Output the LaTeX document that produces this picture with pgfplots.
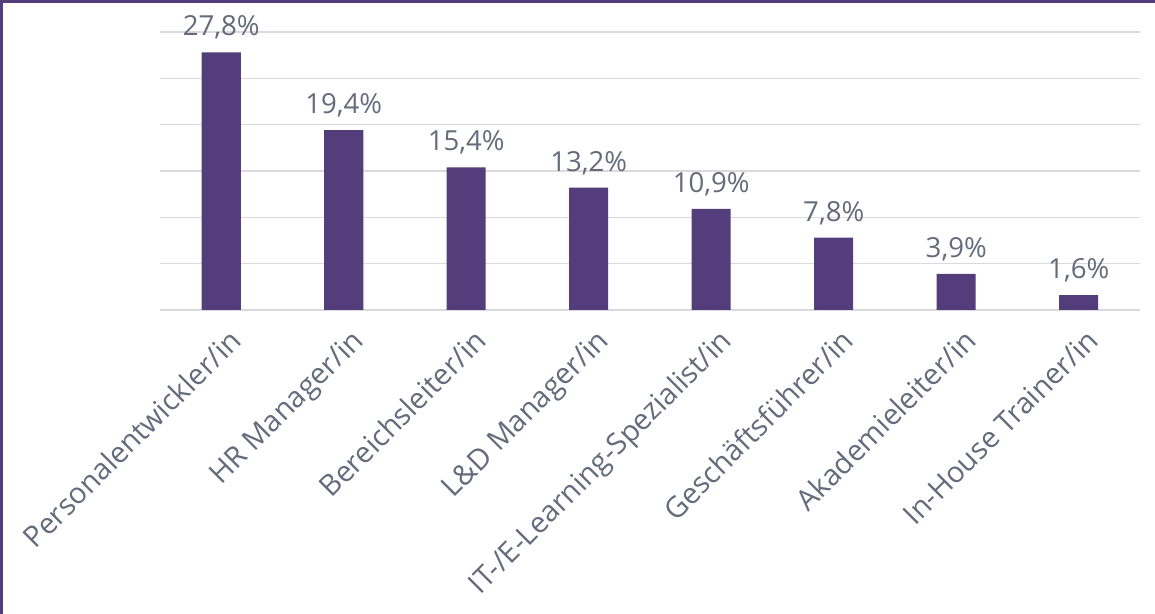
\documentclass[border=0pt]{standalone}
\usepackage{pgfplots}
\pgfplotsset{compat=1.18}
\usepackage{fontspec}
\setmainfont{Open Sans}
\definecolor{barpurple}{HTML}{533D7A}
\definecolor{txtgray}{HTML}{646B7B}
\definecolor{gridgray}{HTML}{D9D9DE}
\begin{document}
\begin{tikzpicture}
\useasboundingbox (0,0) rectangle (577.5pt,307pt);
\fill[white] (0,0) rectangle (577.5pt,307pt);
\begin{axis}[
  at={(80pt,152pt)}, anchor=south west,
  scale only axis, width=490pt, height=139pt,
  xmin=-0.5, xmax=7.5, ymin=0, ymax=30,
  axis line style={draw=none},
  ytick={0,5,10,15,20,25,30},
  yticklabels={},
  ymajorgrids, grid style={gridgray, line width=0.8pt},
  major tick length=0pt,
  xtick={0,1,2,3,4,5,6,7},
  xticklabels={Personalentwickler/in, HR Manager/in, Bereichsleiter/in, L\&D Manager/in, IT-/E-Learning-Spezialist/in, Geschäftsführer/in, Akademieleiter/in, In-House Trainer/in},
  xticklabel style={xshift=3pt, yshift=-7pt, rotate=45, anchor=north east, font=\fontsize{14.5pt}{17pt}\selectfont, text=txtgray, inner sep=1pt},
  /pgf/number format/assume math mode=true,
  nodes near coords={\pgfmathprintnumber[fixed, fixed zerofill, precision=1, use comma]{\pgfplotspointmeta}\%},
  every node near coord/.append style={font=\fontsize{13.8pt}{16pt}\selectfont, text=txtgray, anchor=south, yshift=3pt},
  clip=false,
]
\addplot[ybar, bar width=19.5pt, fill=barpurple, draw=none] coordinates {
(0,27.8) (1,19.4) (2,15.4) (3,13.2) (4,10.9) (5,7.8) (6,3.9) (7,1.6)};
\end{axis}
\fill[barpurple] (0,305.5pt) rectangle (577.5pt,307pt);
\fill[barpurple] (0,0) rectangle (1.5pt,307pt);
\end{tikzpicture}
\end{document}
